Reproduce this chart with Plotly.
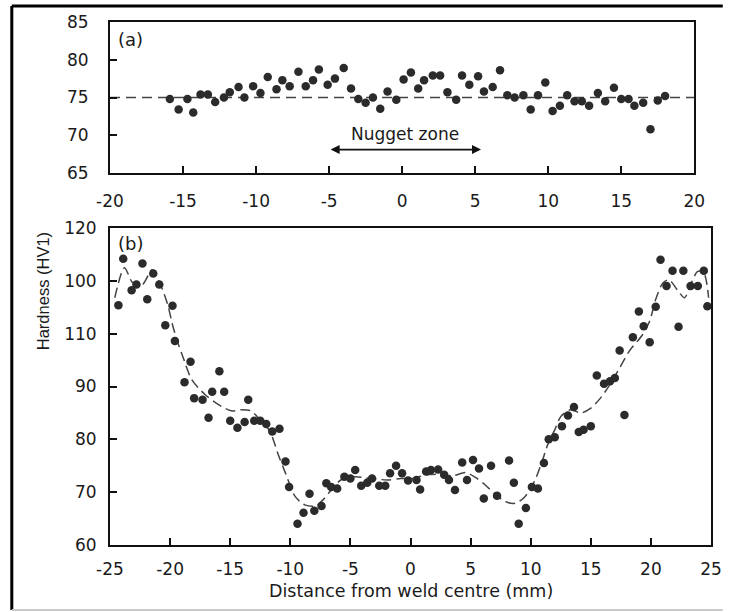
import plotly.graph_objects as go

# ---- Panel (a) data ----
top_x = [-15.9, -15.3, -14.7, -14.3, -13.8, -13.3, -12.8, -12.2, -11.8, -11.2, -10.8, -10.2,
         -9.7, -9.2, -8.6, -8.2, -7.7, -7.1, -6.6, -6.1, -5.7, -5.1, -4.6, -4.0, -3.5, -3.0,
         -2.5, -2.0, -1.5, -1.0, -0.4, 0.1, 0.6, 1.1, 1.5, 2.1, 2.6, 3.1, 3.7, 4.1, 4.6, 5.2,
         5.6, 6.2, 6.7, 7.2, 7.7, 8.3, 8.8, 9.3, 9.8, 10.3, 10.8, 11.3, 11.8, 12.3, 12.8,
         13.4, 13.9, 14.5, 15.0, 15.5, 15.9, 16.5, 17.0, 17.5, 18.0]
top_y = [74.8, 73.4, 74.8, 73.0, 75.4, 75.4, 74.4, 75.0, 75.7, 76.4, 75.0, 76.5,
         75.6, 77.7, 76.1, 77.3, 76.5, 78.4, 76.5, 77.3, 78.7, 76.7, 77.5, 78.9, 76.2, 74.8,
         74.3, 75.0, 73.5, 75.8, 74.7, 77.4, 78.3, 76.2, 77.3, 77.9, 77.9, 75.7, 74.7, 77.9,
         76.7, 77.8, 75.8, 76.4, 78.6, 75.3, 75.0, 75.3, 73.4, 75.3, 77.0, 73.2, 73.9, 75.3,
         74.5, 74.5, 73.9, 75.6, 74.5, 76.3, 74.8, 74.8, 73.9, 74.3, 70.8, 74.6, 75.2]
base_x = [-20, 20]
base_y = [75, 75]

# ---- Panel (b) data ----
bot_x = [-24.3, -23.9, -23.2, -22.8, -22.3, -21.9, -21.4, -20.9, -20.4, -19.8, -19.6,
         -18.8, -18.3, -18.0, -17.3, -16.8, -16.5, -15.9, -15.5, -15.0, -14.4, -13.8,
         -13.5, -13.0, -12.5, -12.0, -11.5, -10.9, -10.4, -10.1, -9.4, -8.9, -8.4, -8.0,
         -7.4, -7.0, -6.6, -6.1, -5.5, -5.0, -4.6, -4.1, -3.6, -3.2, -2.6, -2.1, -1.7,
         -1.2, -0.7, -0.2, 0.5, 0.8, 1.3, 1.7, 2.3, 2.8, 3.2, 3.7, 4.3, 4.7, 5.2, 5.7,
         6.1, 6.7, 7.2, 8.2, 8.6, 9.0, 9.6, 10.1, 10.6, 11.1, 11.5, 12.0, 12.6, 13.1,
         13.6, 14.0, 14.4, 15.0, 15.5, 16.1, 16.6, 17.0, 17.4, 17.8, 18.5, 19.0, 19.4,
         19.9, 20.4, 20.8, 21.3, 21.8, 22.3, 22.7, 23.3, 23.9, 24.4, 24.7]
bot_y = [105.4, 114.2, 108.2, 109.3, 113.3, 106.5, 111.4, 109.3, 101.6, 105.3, 98.6,
         90.8, 94.7, 87.8, 87.5, 84.1, 89.0, 92.9, 89.0, 83.5, 82.2, 83.3,
         87.5, 83.5, 83.5, 82.9, 81.5, 82.0, 75.8, 71.0, 64.0, 66.1, 69.7, 66.5,
         67.4, 71.7, 71.0, 70.7, 72.9, 72.6, 74.2, 71.2, 71.8, 72.6, 71.2, 71.2, 73.6,
         75.0, 73.6, 72.2, 72.3, 70.5, 73.9, 74.2, 74.3, 73.3, 72.3, 70.4, 75.6, 72.3,
         76.1, 74.5, 68.8, 75.0, 69.3, 76.0, 71.8, 64.0, 67.0, 71.0, 70.7, 75.5, 80.0,
         80.4, 82.5, 84.5, 86.1, 81.4, 81.8, 82.5, 92.1, 90.5, 91.0, 91.6, 96.8, 84.6,
         99.3, 104.2, 101.4, 98.4, 105.1, 114.0, 109.0, 111.9, 101.3, 111.9, 109.0,
         109.0, 111.9, 105.2]
fit_x = [-24.6, -23.8, -23.1, -22.3, -21.5, -20.8, -20.2, -19.8, -19.4, -18.9, -18.2,
         -17.1, -16.0, -14.9, -14.1, -13.3, -12.5, -11.7, -11.0, -10.4, -9.6, -8.8, -7.9,
         -7.3, -6.6, -5.8, -4.7, -3.3, -1.9, -0.8, 0.2, 1.3, 2.4, 3.5, 4.6, 5.4, 6.2, 7.1,
         7.9, 8.7, 9.5, 10.3, 10.9, 11.4, 12.0, 12.5, 13.3, 14.2, 15.0, 15.8, 16.6, 17.4,
         18.2, 19.3, 19.9, 20.4, 21.0, 21.5, 22.2, 22.8, 23.3, 23.9, 24.4, 24.8]
fit_y = [106.8, 112.5, 109.6, 109.3, 112.1, 109.3, 105.5, 101.7, 98.6, 95.4, 91.3,
         88.5, 86.6, 85.4, 85.6, 85.4, 83.7, 81.5, 77.1, 73.6, 69.2, 67.6, 67.4,
         68.5, 70.4, 72.3, 72.9, 72.6, 72.3, 72.6, 72.6, 73.3, 73.4, 73.1, 73.7, 72.8,
         71.4, 69.5, 68.2, 67.9, 69.1, 72.0, 75.5, 78.9, 81.8, 84.3, 85.6, 85.0, 85.9,
         87.8, 90.4, 93.5, 96.7, 99.8, 102.4, 106.5, 109.6, 110.2, 108.3, 106.8, 109.3,
         111.8, 111.5, 106.8]

top_xticks = [-20, -15, -10, -5, 0, 5, 10, 15, 20]
top_xticktext = ["-20", "-15", "-10", "-5", "0", "5", "10", "15", "20"]
top_yticks = [65, 70, 75, 80, 85]
bot_xticks = [-25, -20, -15, -10, -5, 0, 5, 10, 15, 20, 25]
bot_xticktext = ["-25", "-20", "-15", "-10", "-5", "0", "5", "10", "15", "20", "25"]
bot_yticks = [60, 70, 80, 90, 100, 110, 120]
bot_yticktext = ["60", "70", "80", "90", "110", "100", "120"]

FONT = "DejaVu Sans"
INK = "#1a1a1a"
MARK = dict(symbol="circle", size=8.5, color="#2b2b2b", line=dict(width=0))

fig = go.Figure()
fig.add_trace(go.Scatter(x=base_x, y=base_y, mode="lines", xaxis="x", yaxis="y",
                         line=dict(color="#444", width=1.3, dash="10px,6px"), showlegend=False))
fig.add_trace(go.Scatter(x=top_x, y=top_y, mode="markers", xaxis="x", yaxis="y",
                         marker=MARK, showlegend=False))
fig.add_trace(go.Scatter(x=fit_x, y=fit_y, mode="lines", xaxis="x2", yaxis="y2",
                         line=dict(color="#444", width=1.5, dash="10px,5px", shape="spline",
                                   smoothing=0.8), showlegend=False))
fig.add_trace(go.Scatter(x=bot_x, y=bot_y, mode="markers", xaxis="x2", yaxis="y2",
                         marker=MARK, showlegend=False))

axis_common = dict(showline=True, linecolor="#111", linewidth=2, mirror=True,
                   ticks="inside", ticklen=7, tickwidth=2, tickcolor="#111",
                   showgrid=False, zeroline=False,
                   tickfont=dict(family=FONT, size=17, color=INK))

fig.update_layout(
    width=734, height=612, autosize=False,
    margin=dict(l=110, r=12, t=22, b=67),
    paper_bgcolor="white", plot_bgcolor="white",
    xaxis=dict(domain=[0, 0.9722], range=[-20, 20], tickvals=top_xticks,
               ticktext=top_xticktext, anchor="y", ticklabelstandoff=12, **axis_common),
    yaxis=dict(domain=[0.7113, 1.0], range=[65, 85], tickvals=top_yticks,
               anchor="x", ticklabelstandoff=16, **axis_common),
    xaxis2=dict(domain=[0, 1.0], range=[-25, 25], tickvals=bot_xticks,
                ticktext=bot_xticktext, anchor="y2", ticklabelstandoff=8, **axis_common),
    yaxis2=dict(domain=[0, 0.6061], range=[60, 120], tickvals=bot_yticks,
                ticktext=bot_yticktext, anchor="x2", ticklabelstandoff=8, **axis_common),
)

W, H, L, R, T, B = 734, 612, 110, 12, 22, 67
pw, ph = W - L - R, H - T - B

def px_to_paper(xp, yp):
    return (xp - L) / pw, (H - B - yp) / ph

ylab_x, ylab_y = px_to_paper(42, 291)

annotations = [
    dict(text="(a)", x=-19.6, y=84.4, xref="x", yref="y", xanchor="left", yanchor="top",
         showarrow=False, font=dict(family=FONT, size=18, color=INK)),
    dict(text="(b)", x=-24.5, y=119.5, xref="x2", yref="y2", xanchor="left", yanchor="top",
         showarrow=False, font=dict(family=FONT, size=18, color=INK)),
    dict(text="Nugget zone", x=0.2, y=70.2, xref="x", yref="y", showarrow=False,
         font=dict(family=FONT, size=17, color=INK)),
    dict(x=5.4, y=68.1, ax=-5.0, ay=68.1, xref="x", yref="y", axref="x", ayref="y",
         text="", showarrow=True, arrowhead=2, arrowside="end+start", arrowsize=1,
         arrowwidth=1.8, arrowcolor="#111"),
    dict(text="Distance from weld centre (mm)", x=0.5, y=-0.088, xref="paper", yref="paper",
         xanchor="center", yanchor="middle", showarrow=False,
         font=dict(family=FONT, size=17.5, color=INK)),
    dict(text="Hardness (HV1)", x=ylab_x, y=ylab_y, xref="paper", yref="paper",
         xanchor="center", yanchor="middle", showarrow=False, textangle=-90,
         font=dict(family="Liberation Sans", size=16.5, color=INK)),
]
fig.update_layout(annotations=annotations)

x0, y0 = px_to_paper(10, 6)
x1, y1 = px_to_paper(734, 610)
fig.add_shape(type="line", xref="paper", yref="paper", x0=x0, y0=y0, x1=x1, y1=y0,
              line=dict(color="black", width=3))
fig.add_shape(type="line", xref="paper", yref="paper", x0=x0, y0=y0, x1=x0, y1=y1,
              line=dict(color="black", width=3))
fig.add_shape(type="line", xref="paper", yref="paper", x0=x0, y0=y1, x1=x1, y1=y1,
              line=dict(color="#c8c8c8", width=2))

page_fix = ("document.documentElement.style.margin='0';document.documentElement.style.overflow='hidden';"
            "document.body.style.margin='0';document.body.style.overflow='hidden';")
fig.write_html("out.html", config={"responsive": False}, post_script=page_fix)
